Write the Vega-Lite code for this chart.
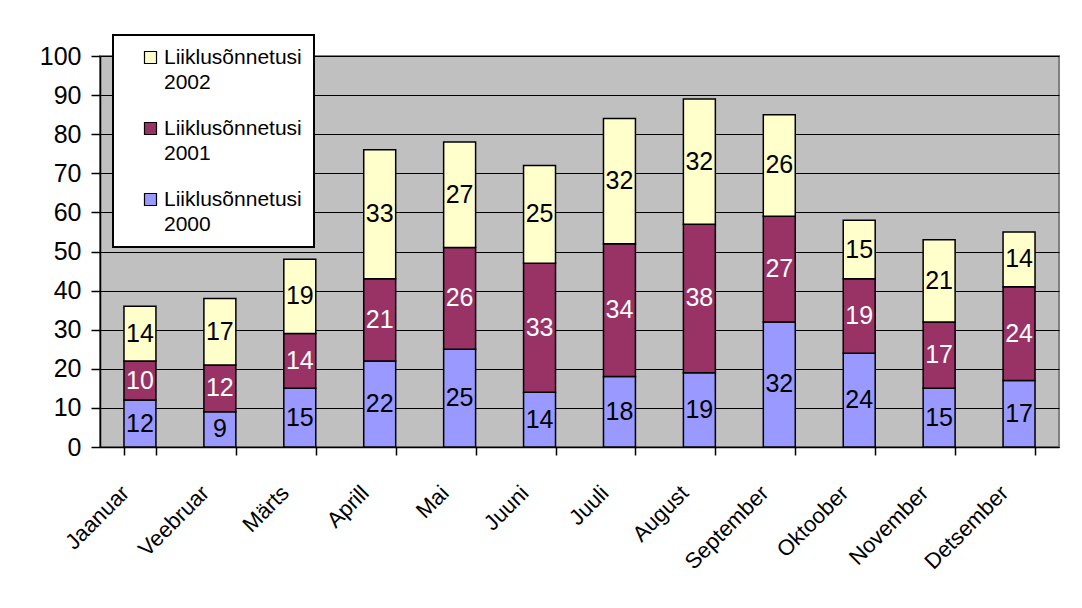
{
  "$schema": "https://vega.github.io/schema/vega-lite/v6.json",
  "width": 959,
  "height": 391,
  "autosize": {"type": "none"},
  "padding": {"left": 100, "top": 56, "right": 23, "bottom": 161},
  "background": "white",
  "config": {
    "font": "Liberation Sans",
    "view": {"fill": "#C0C0C0", "stroke": "#808080", "strokeWidth": 2},
    "axisY": {
      "values": [0, 10, 20, 30, 40, 50, 60, 70, 80, 90, 100],
      "labelOverlap": false,
      "labelFontSize": 25,
      "labelColor": "black",
      "labelPadding": 10,
      "tickSize": 9,
      "tickColor": "black",
      "tickWidth": 1.5,
      "domainColor": "black",
      "domainWidth": 1.5,
      "grid": true,
      "gridColor": "black",
      "gridWidth": 1.2,
      "gridOpacity": 1
    }
  },
  "data": {
    "values": [
      {"month": "Jaanuar", "year": 2000, "series": "Liiklusõnnetusi 2000", "value": 12},
      {"month": "Jaanuar", "year": 2001, "series": "Liiklusõnnetusi 2001", "value": 10},
      {"month": "Jaanuar", "year": 2002, "series": "Liiklusõnnetusi 2002", "value": 14},
      {"month": "Veebruar", "year": 2000, "series": "Liiklusõnnetusi 2000", "value": 9},
      {"month": "Veebruar", "year": 2001, "series": "Liiklusõnnetusi 2001", "value": 12},
      {"month": "Veebruar", "year": 2002, "series": "Liiklusõnnetusi 2002", "value": 17},
      {"month": "Märts", "year": 2000, "series": "Liiklusõnnetusi 2000", "value": 15},
      {"month": "Märts", "year": 2001, "series": "Liiklusõnnetusi 2001", "value": 14},
      {"month": "Märts", "year": 2002, "series": "Liiklusõnnetusi 2002", "value": 19},
      {"month": "Aprill", "year": 2000, "series": "Liiklusõnnetusi 2000", "value": 22},
      {"month": "Aprill", "year": 2001, "series": "Liiklusõnnetusi 2001", "value": 21},
      {"month": "Aprill", "year": 2002, "series": "Liiklusõnnetusi 2002", "value": 33},
      {"month": "Mai", "year": 2000, "series": "Liiklusõnnetusi 2000", "value": 25},
      {"month": "Mai", "year": 2001, "series": "Liiklusõnnetusi 2001", "value": 26},
      {"month": "Mai", "year": 2002, "series": "Liiklusõnnetusi 2002", "value": 27},
      {"month": "Juuni", "year": 2000, "series": "Liiklusõnnetusi 2000", "value": 14},
      {"month": "Juuni", "year": 2001, "series": "Liiklusõnnetusi 2001", "value": 33},
      {"month": "Juuni", "year": 2002, "series": "Liiklusõnnetusi 2002", "value": 25},
      {"month": "Juuli", "year": 2000, "series": "Liiklusõnnetusi 2000", "value": 18},
      {"month": "Juuli", "year": 2001, "series": "Liiklusõnnetusi 2001", "value": 34},
      {"month": "Juuli", "year": 2002, "series": "Liiklusõnnetusi 2002", "value": 32},
      {"month": "August", "year": 2000, "series": "Liiklusõnnetusi 2000", "value": 19},
      {"month": "August", "year": 2001, "series": "Liiklusõnnetusi 2001", "value": 38},
      {"month": "August", "year": 2002, "series": "Liiklusõnnetusi 2002", "value": 32},
      {"month": "September", "year": 2000, "series": "Liiklusõnnetusi 2000", "value": 32},
      {"month": "September", "year": 2001, "series": "Liiklusõnnetusi 2001", "value": 27},
      {"month": "September", "year": 2002, "series": "Liiklusõnnetusi 2002", "value": 26},
      {"month": "Oktoober", "year": 2000, "series": "Liiklusõnnetusi 2000", "value": 24},
      {"month": "Oktoober", "year": 2001, "series": "Liiklusõnnetusi 2001", "value": 19},
      {"month": "Oktoober", "year": 2002, "series": "Liiklusõnnetusi 2002", "value": 15},
      {"month": "November", "year": 2000, "series": "Liiklusõnnetusi 2000", "value": 15},
      {"month": "November", "year": 2001, "series": "Liiklusõnnetusi 2001", "value": 17},
      {"month": "November", "year": 2002, "series": "Liiklusõnnetusi 2002", "value": 21},
      {"month": "Detsember", "year": 2000, "series": "Liiklusõnnetusi 2000", "value": 17},
      {"month": "Detsember", "year": 2001, "series": "Liiklusõnnetusi 2001", "value": 24},
      {"month": "Detsember", "year": 2002, "series": "Liiklusõnnetusi 2002", "value": 14}
    ]
  },
  "transform": [
    {"stack": "value", "groupby": ["month"], "sort": [{"field": "year", "order": "ascending"}], "as": ["y0", "y1"]},
    {"calculate": "(datum.y0 + datum.y1) / 2", "as": "ymid"}
  ],
  "encoding": {
    "x": {
      "field": "month",
      "type": "nominal",
      "sort": null,
      "scale": {"paddingInner": 0.6, "paddingOuter": 0.3},
      "axis": {
        "title": null,
        "labelAngle": -45,
        "labelAlign": "right",
        "labelBaseline": "top",
        "labelFontSize": 22,
        "labelColor": "black",
        "labelOffset": -22,
        "labelPadding": 27,
        "tickBand": "extent",
        "tickSize": 8,
        "tickColor": "black",
        "tickWidth": 1.5,
        "domainColor": "black",
        "domainWidth": 1.5,
        "grid": false
      }
    }
  },
  "layer": [
    {
      "mark": {"type": "bar", "stroke": "black", "strokeWidth": 1.5},
      "encoding": {
        "y": {
          "field": "y1",
          "type": "quantitative",
          "scale": {"domain": [0, 100], "nice": false},
          "axis": {"title": null}
        },
        "y2": {"field": "y0"},
        "color": {
          "field": "series",
          "type": "nominal",
          "scale": {
            "domain": ["Liiklusõnnetusi 2002", "Liiklusõnnetusi 2001", "Liiklusõnnetusi 2000"],
            "range": ["#FFFFCC", "#993366", "#9999FF"]
          },
          "legend": {
            "title": null,
            "orient": "none",
            "legendX": 13,
            "legendY": -21,
            "padding": 12,
            "fillColor": "white",
            "strokeColor": "black",
            "symbolType": "square",
            "symbolSize": 144,
            "symbolStrokeColor": "black",
            "symbolStrokeWidth": 1.2,
            "symbolOffset": 15,
            "labelFontSize": 21,
            "labelColor": "black",
            "labelLimit": 400,
            "labelOffset": 3,
            "rowPadding": 24,
            "labelExpr": "['Liiklusõnnetusi   ', slice(datum.label, -4)]",
            "encode": {
              "legend": {"update": {"strokeWidth": {"value": 2}}},
              "labels": {"update": {"lineHeight": {"value": 25}}}
            }
          }
        }
      }
    },
    {
      "mark": {"type": "text", "fontSize": 25, "baseline": "middle", "align": "center"},
      "encoding": {
        "y": {"field": "ymid", "type": "quantitative", "axis": {"title": null}},
        "text": {"field": "value", "type": "quantitative"},
        "color": {
          "condition": {"test": "datum.year == 2001", "value": "white"},
          "value": "black"
        }
      }
    }
  ]
}
